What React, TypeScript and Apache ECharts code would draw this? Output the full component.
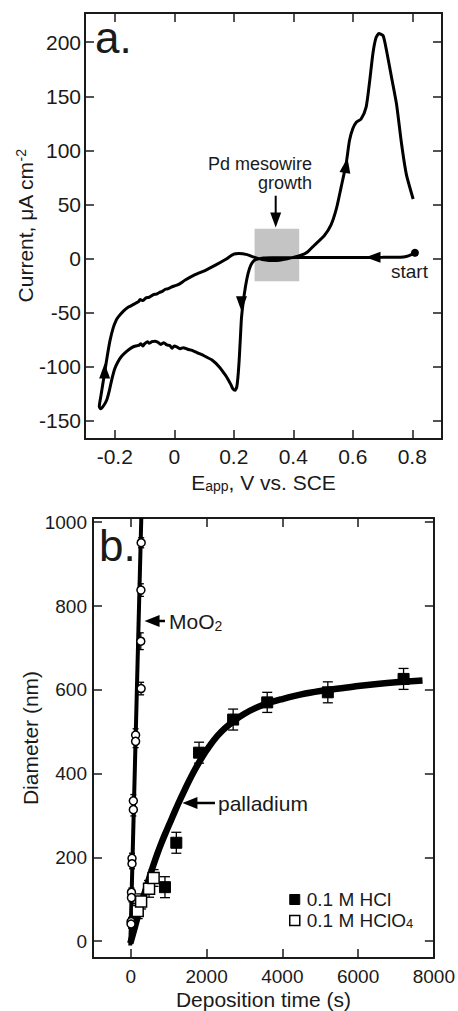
import React, { useEffect, useRef } from 'react';
import * as echarts from 'echarts';

const FONT = '"Liberation Sans", Arial, Helvetica, sans-serif';
const INK = '#1a1a1a';

// ---------- panel a: cyclic voltammogram ----------
const eTicks = [-0.2, 0, 0.2, 0.4, 0.6, 0.8];
const iTicks = [-150, -100, -50, 0, 50, 100, 150, 200];

// [E (V vs SCE), current (uA cm^-2)] in sweep order, from the start point
const cvSweep: number[][] = [
  [0.809, 5.3], [0.795, 3.2], [0.78, 1.8], [0.76, 1.2], [0.7, 1.0], [0.6, 0.9], [0.5, 0.8],
  [0.43, 0.8], [0.38, 0.7], [0.33, 0.6], [0.3, 0.4], [0.28, -0.6], [0.268, -2], [0.257, -6.5],
  [0.248, -14], [0.24, -25], [0.232, -40], [0.226, -55], [0.222, -75], [0.218, -95],
  [0.214, -110], [0.21, -119], [0.204, -122], [0.198, -121], [0.19, -116.5], [0.18, -111.5],
  [0.172, -108], [0.15, -100], [0.127, -94], [0.1, -90], [0.08, -87.5], [0.06, -85],
  [0.045, -84], [0.03, -82.5], [0.02, -83.5], [0.01, -82], [0.0, -81], [-0.008, -83],
  [-0.015, -80.5], [-0.025, -80], [-0.035, -78], [-0.045, -79.5], [-0.055, -77.5],
  [-0.065, -76.5], [-0.075, -77], [-0.085, -78.5], [-0.09, -77], [-0.1, -79], [-0.105, -81],
  [-0.112, -79], [-0.12, -80.5], [-0.13, -81], [-0.143, -82.5], [-0.16, -86], [-0.177, -90.5],
  [-0.19, -96], [-0.2, -102], [-0.21, -112], [-0.218, -122], [-0.227, -131], [-0.237, -136],
  [-0.247, -139], [-0.252, -137], [-0.247, -128], [-0.24, -116], [-0.233, -104],
  [-0.225, -90], [-0.216, -76], [-0.205, -64], [-0.195, -57], [-0.188, -54], [-0.17, -48.5],
  [-0.154, -45], [-0.14, -43], [-0.13, -41.5], [-0.12, -40], [-0.115, -38], [-0.105, -39],
  [-0.095, -36.5], [-0.085, -36], [-0.07, -33.5], [-0.06, -33], [-0.05, -31.5],
  [-0.04, -30.5], [-0.03, -28.5], [-0.02, -28], [-0.01, -26.5], [0, -25.5], [0.015, -24],
  [0.037, -20], [0.07, -15], [0.105, -11], [0.14, -6], [0.172, -1], [0.2, 4], [0.217, 4.5],
  [0.245, 3.5], [0.268, 1.2], [0.302, -1.2], [0.336, -2], [0.38, -0.3], [0.426, 3],
  [0.448, 6], [0.47, 12], [0.504, 21], [0.527, 31], [0.545, 46], [0.561, 66], [0.578, 88],
  [0.589, 109], [0.6, 120], [0.612, 126], [0.628, 129], [0.645, 140], [0.656, 162],
  [0.668, 190], [0.678, 204], [0.688, 208], [0.702, 206], [0.713, 193], [0.73, 168],
  [0.747, 143], [0.764, 106], [0.78, 78], [0.803, 55],
];
const cvStart = [0.809, 5.3];
// direction arrows on the curve: [E, I]
const cvArrowLeft = [0.668, 1];
const cvArrowDown = [0.226, -42];
const cvArrowUp = [-0.234, -104];
const cvArrowUpRight = [0.578, 86];
// shaded Pd growth window [E0, I0, E1, I1]
const growthWindow = [0.27, -21, 0.42, 27.5];
// "Pd mesowire growth" arrow shaft and head
const growthArrowShaft = [[0.341, 58], [0.341, 35]];
const growthArrowHead = [0.341, 35.5];

// ---------- panel b: diameter vs time ----------
const tTicks = [0, 2000, 4000, 6000, 8000];
const dTicks = [0, 200, 400, 600, 800, 1000];

const moo2Fit = [[-15, -10], [275, 1010]];
const palladiumFit = [
  [-15, -5], [100, 32], [200, 65], [300, 96], [400, 126], [500, 155], [600, 183],
  [700, 209], [800, 233], [900, 255], [1000, 276], [1100, 297], [1200, 318], [1300, 338],
  [1400, 357], [1500, 376], [1600, 394], [1700, 411], [1800, 427], [1900, 442], [2000, 456],
  [2200, 481], [2400, 501], [2600, 517], [2800, 531], [3000, 543], [3300, 557], [3600, 568],
  [4000, 578], [4500, 589], [5000, 597], [5500, 603], [6000, 609], [6500, 614], [7000, 618],
  [7700, 622],
];
// [time (s), diameter (nm), error (nm)]
const hclPoints = [
  [900, 129, 25], [1200, 235, 25], [1800, 450, 25], [2700, 529, 25],
  [3600, 570, 24], [5200, 594, 25], [7200, 626, 25],
];
const hclo4Points = [[180, 72, 18], [270, 95, 18], [480, 125, 20], [600, 151, 20]];
const moo2Points = [
  [272, 951, 12], [265, 838, 15], [262, 716, 20], [270, 603, 15], [125, 492, 15],
  [125, 477, 15], [65, 335, 15], [65, 314, 15], [30, 198, 12], [30, 185, 12],
  [15, 117, 10], [15, 104, 10], [5, 47, 10], [5, 41, 10],
];
const moo2ArrowShaft = [[560, 764], [900, 764]];
const moo2ArrowHead = [560, 764];
const pdArrowShaft = [[1560, 330], [2220, 330]];
const pdArrowHead = [1560, 330];

const fmtNum = (v: number) => String(Math.round(v * 10) / 10);

function makeAxis(
  grid: number,
  position: string,
  min: number,
  max: number,
  ticks: number[],
  main: boolean,
  labelSize: number,
  labelMargin: number,
  extra: any = {}
) {
  return {
    type: 'value',
    gridIndex: grid,
    position,
    min,
    max,
    axisLine: { show: true, onZero: false, lineStyle: { color: INK, width: 2 } },
    axisTick: { show: true, inside: true, length: 9, customValues: ticks, lineStyle: { color: INK, width: 1.5 } },
    axisLabel: {
      show: main,
      customValues: ticks,
      formatter: fmtNum,
      fontSize: labelSize,
      fontFamily: FONT,
      color: INK,
      margin: labelMargin,
    },
    splitLine: { show: false },
    ...extra,
  };
}

function errRender(capHalf: number) {
  return (params: any, api: any) => {
    const x = api.value(0);
    const y = api.value(1);
    const e = api.value(2);
    const hi = api.coord([x, y + e]);
    const lo = api.coord([x, y - e]);
    const style = { stroke: '#000', lineWidth: 1.3 };
    return {
      type: 'group',
      children: [
        { type: 'line', shape: { x1: hi[0], y1: hi[1], x2: lo[0], y2: lo[1] }, style },
        { type: 'line', shape: { x1: hi[0] - capHalf, y1: hi[1], x2: hi[0] + capHalf, y2: hi[1] }, style },
        { type: 'line', shape: { x1: lo[0] - capHalf, y1: lo[1], x2: lo[0] + capHalf, y2: lo[1] }, style },
      ],
    };
  };
}

const nameStyle = {
  fontFamily: FONT,
  fontSize: 21,
  color: INK,
  rich: {
    sup: { fontFamily: FONT, fontSize: 14, color: INK, verticalAlign: 'top', padding: [0, 0, 8, 0] },
    sub: { fontFamily: FONT, fontSize: 14, color: INK, verticalAlign: 'bottom', padding: [8, 0, 0, 0] },
  },
};

const solid = (color: string, extra: any = {}) => ({ color, opacity: 1, ...extra });

function buildOption() {
  const A = { xAxisIndex: 0, yAxisIndex: 0 };
  const B = { xAxisIndex: 2, yAxisIndex: 2 };
  return {
    animation: false,
    backgroundColor: '#fff',
    grid: [
      { left: 85, top: 13, width: 357, height: 426 },
      { left: 93, top: 518, width: 345, height: 440 },
    ],
    xAxis: [
      makeAxis(0, 'bottom', -0.3, 0.9, eTicks, true, 21, 7, {
        name: 'E{sub|app}, V vs. SCE',
        nameLocation: 'middle',
        nameGap: 32,
        nameMoveOverlap: false,
        nameTextStyle: nameStyle,
      }),
      makeAxis(0, 'top', -0.3, 0.9, eTicks, false, 21, 7),
      makeAxis(1, 'bottom', -1000, 8000, tTicks, true, 19, 9, {
        name: 'Deposition time (s)',
        nameLocation: 'middle',
        nameGap: 31,
        nameMoveOverlap: false,
        nameTextStyle: nameStyle,
      }),
      makeAxis(1, 'top', -1000, 8000, tTicks, false, 19, 9),
    ],
    yAxis: [
      makeAxis(0, 'left', -167, 227, iTicks, true, 21, 4, {
        name: 'Current, μA cm{sup|-2}',
        nameLocation: 'middle',
        nameGap: 49,
        nameMoveOverlap: false,
        nameTextStyle: nameStyle,
      }),
      makeAxis(0, 'right', -167, 227, iTicks, false, 21, 4),
      makeAxis(1, 'left', -40, 1010, dTicks, true, 19, 6, {
        name: 'Diameter (nm)',
        nameLocation: 'middle',
        nameGap: 52,
        nameMoveOverlap: false,
        nameTextStyle: nameStyle,
      }),
      makeAxis(1, 'right', -40, 1010, dTicks, false, 19, 6),
    ],
    legend: {
      data: [
        { name: '0.1 M HCl', icon: 'rect', itemStyle: { color: '#000', borderColor: '#000', borderWidth: 1, opacity: 1 } },
        { name: '0.1 M HClO4', icon: 'rect', itemStyle: { color: '#fff', borderColor: '#000', borderWidth: 1.5, opacity: 1 } },
      ],
      orient: 'vertical',
      left: 289,
      top: 890,
      itemWidth: 10,
      itemHeight: 10,
      itemGap: 0,
      padding: 0,
      selectedMode: false,
      formatter: (n: string) => (n === '0.1 M HClO4' ? '0.1 M HClO{sub|4}' : n),
      textStyle: {
        fontFamily: FONT,
        fontSize: 19,
        color: INK,
        lineHeight: 19,
        padding: [0, 0, 0, 2],
        rich: { sub: { fontFamily: FONT, fontSize: 13, color: INK, verticalAlign: 'bottom', lineHeight: 19, padding: [8, 0, 0, 0] } },
      },
    },
    graphic: [
      { type: 'text', x: 95, y: 37, style: { text: 'a.', fontFamily: FONT, fontSize: 44, fill: INK, align: 'left', verticalAlign: 'middle' } },
      { type: 'text', x: 99, y: 545, style: { text: 'b.', fontFamily: FONT, fontSize: 44, fill: INK, align: 'left', verticalAlign: 'middle' } },
      {
        type: 'text', x: 312, y: 154,
        style: { text: 'Pd mesowire\ngrowth', fontFamily: FONT, fontSize: 18, lineHeight: 19, fill: INK, align: 'right', verticalAlign: 'top' },
      },
      { type: 'text', x: 391, y: 271, style: { text: 'start', fontFamily: FONT, fontSize: 19, fill: INK, align: 'left', verticalAlign: 'middle' } },
      {
        type: 'text', x: 169, y: 621,
        style: {
          text: 'MoO{s|2}', fontFamily: FONT, fontSize: 21, fill: INK, align: 'left', verticalAlign: 'middle',
          rich: { s: { fontFamily: FONT, fontSize: 14, fill: INK, verticalAlign: 'bottom', padding: [10, 0, 0, 0] } },
        },
      },
      { type: 'text', x: 218, y: 803, style: { text: 'palladium', fontFamily: FONT, fontSize: 21, fill: INK, align: 'left', verticalAlign: 'middle' } },
    ],
    series: [
      // ---- panel a ----
      {
        type: 'custom', ...A, z: 1, silent: true,
        data: [growthWindow],
        encode: { x: [0, 2], y: [1, 3] },
        renderItem: (params: any, api: any) => {
          const p0 = api.coord([api.value(0), api.value(3)]);
          const p1 = api.coord([api.value(2), api.value(1)]);
          return { type: 'rect', shape: { x: p0[0], y: p0[1], width: p1[0] - p0[0], height: p1[1] - p0[1] }, style: { fill: '#c4c4c4' } };
        },
      },
      {
        type: 'line', ...A, z: 3, data: cvSweep, showSymbol: false, smooth: 0.2,
        lineStyle: { color: '#000', width: 3 }, silent: true,
      },
      {
        type: 'scatter', ...A, z: 4, symbol: 'circle', symbolSize: 8,
        itemStyle: solid('#000'), data: [cvStart], silent: true,
      },
      {
        type: 'scatter', ...A, z: 4, symbol: 'triangle', symbolSize: [11, 15],
        itemStyle: solid('#000'), silent: true,
        data: [
          { value: cvArrowLeft, symbolRotate: 90 },
          { value: cvArrowDown, symbolRotate: 180 },
          { value: cvArrowUp, symbolRotate: 0 },
          { value: cvArrowUpRight, symbolRotate: -10 },
          { value: growthArrowHead, symbolRotate: 180 },
        ],
      },
      {
        type: 'line', ...A, z: 4, data: growthArrowShaft, showSymbol: false,
        lineStyle: { color: '#000', width: 2 }, silent: true,
      },
      // ---- panel b ----
      {
        type: 'line', ...B, z: 2, data: moo2Fit, showSymbol: false,
        lineStyle: { color: '#000', width: 4 }, silent: true,
      },
      {
        type: 'line', ...B, z: 2, data: palladiumFit, showSymbol: false, smooth: 0.3,
        lineStyle: { color: '#000', width: 6.5 }, silent: true,
      },
      {
        type: 'custom', ...B, z: 3, silent: true, data: moo2Points, encode: { x: 0, y: 1 },
        renderItem: errRender(3),
      },
      {
        type: 'custom', ...B, z: 3, silent: true, data: hclPoints, encode: { x: 0, y: 1 },
        renderItem: errRender(5),
      },
      {
        type: 'custom', ...B, z: 3, silent: true, data: hclo4Points, encode: { x: 0, y: 1 },
        renderItem: errRender(5),
      },
      {
        name: 'MoO2', type: 'scatter', ...B, z: 5, symbol: 'circle', symbolSize: 8,
        itemStyle: solid('#fff', { borderColor: '#000', borderWidth: 1.5 }), data: moo2Points, silent: true,
      },
      {
        name: '0.1 M HCl', type: 'scatter', ...B, z: 5, symbol: 'rect', symbolSize: 11,
        itemStyle: solid('#000', { borderColor: '#000', borderWidth: 1 }), data: hclPoints, silent: true,
      },
      {
        name: '0.1 M HClO4', type: 'scatter', ...B, z: 5, symbol: 'rect', symbolSize: 11,
        itemStyle: solid('#fff', { borderColor: '#000', borderWidth: 1.5 }), data: hclo4Points, silent: true,
      },
      {
        type: 'line', ...B, z: 4, data: moo2ArrowShaft, showSymbol: false,
        lineStyle: { color: '#000', width: 2.5 }, silent: true,
      },
      {
        type: 'line', ...B, z: 4, data: pdArrowShaft, showSymbol: false,
        lineStyle: { color: '#000', width: 2.5 }, silent: true,
      },
      {
        type: 'scatter', ...B, z: 4, symbol: 'triangle', symbolSize: [12, 15],
        itemStyle: solid('#000'), silent: true,
        data: [
          { value: moo2ArrowHead, symbolRotate: 90 },
          { value: pdArrowHead, symbolRotate: 90 },
        ],
      },
    ],
  };
}

export default function App() {
  const ref = useRef<HTMLDivElement>(null);
  useEffect(() => {
    if (!ref.current) return;
    const chart = echarts.init(ref.current, null, { renderer: 'svg' });
    chart.setOption(buildOption() as any);
    return () => chart.dispose();
  }, []);
  return (
    <div
      ref={ref}
      style={{ position: 'absolute', left: 0, top: 0, width: 458, height: 1011, background: '#fff' }}
    />
  );
}
